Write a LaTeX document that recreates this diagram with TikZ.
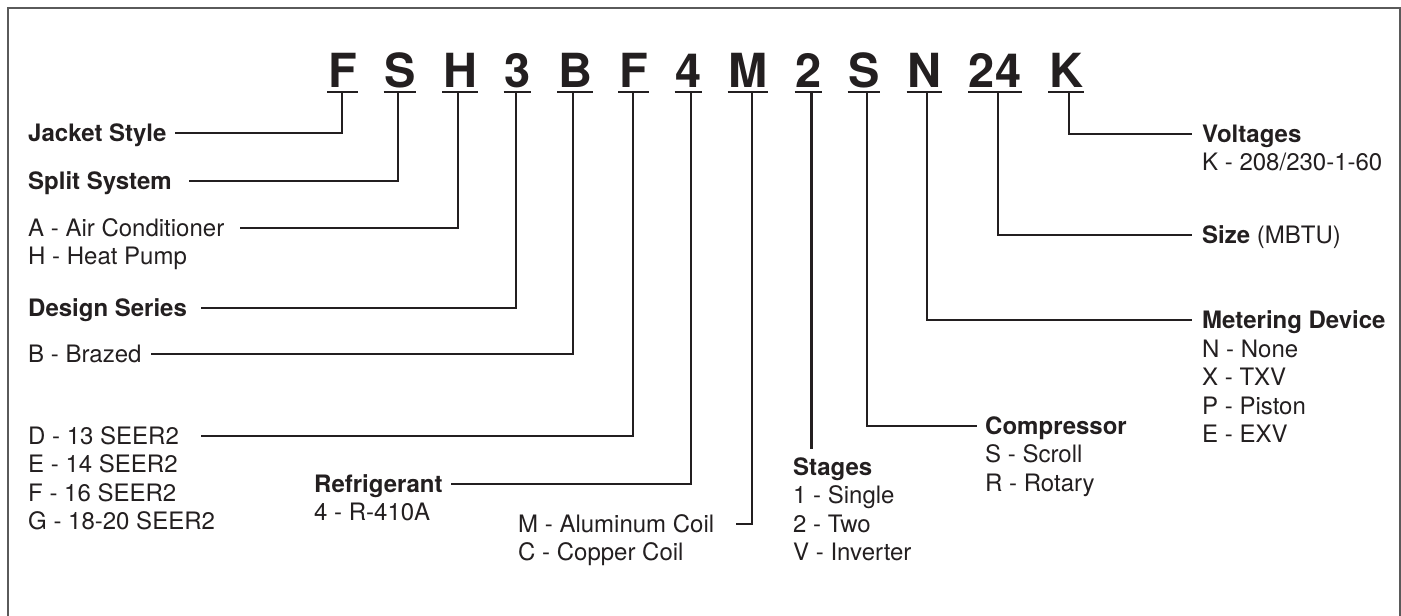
\documentclass[tikz,border=0pt]{standalone}
\usepackage{fontspec}
\setmainfont{TeX Gyre Heros}
\definecolor{ink}{HTML}{231F20}
\definecolor{framec}{HTML}{5A5A5A}
\begin{document}
\begin{tikzpicture}[x=1pt,y=-1pt,
  letter/.style={font=\bfseries\fontsize{47}{47}\selectfont, text=ink, anchor=base,
    inner xsep=0.6pt, inner ysep=5pt, text height=34pt, text depth=0pt},
  uline/.style={draw=ink, line width=2pt},
  conn/.style={draw=ink, line width=2.3pt},
  lbl/.style={font=\fontsize{24}{28.6}\selectfont, text=ink, anchor=base west,
    inner sep=0pt, text height=16pt, text depth=0pt},
  hd/.style={lbl, font=\bfseries\fontsize{24}{28.6}\selectfont}
]
\useasboundingbox (0,0) rectangle (1401,616);
% frame
\draw[framec, line width=2pt] (8,640) -- (8,8) -- (1399.5,8) -- (1399.5,640);

% code letters
\node[letter] (uF1) at (342.5,87) {F};
\node[letter] (uS1) at (400,87) {S};
\node[letter] (uH)  at (460,87) {H};
\node[letter] (u3)  at (517.5,87) {3};
\node[letter] (uB)  at (575,87) {B};
\node[letter] (uF2) at (633.5,87) {F};
\node[letter] (u4)  at (688.5,87) {4};
\node[letter] (uM)  at (748,87) {M};
\node[letter] (u2)  at (808.5,87) {2};
\node[letter] (uS2) at (864,87) {S};
\node[letter] (uN)  at (924.5,87) {N};
\node[letter] (u24) at (995,87) {24};
\node[letter] (uK)  at (1066,87) {K};
\foreach \n in {uF1,uS1,uH,u3,uB,uF2,u4,uM,u2,uS2,uN,u24,uK}
  \draw[uline] (\n.south west) -- (\n.south east);

% left labels
\node[hd]  (lJS) at (28,141) {Jacket Style};
\node[hd]  (lSS) at (28,189) {Split System};
\node[lbl] (lAC) at (28,236) {A - Air Conditioner};
\node[lbl] (lHP) at (28,264.6) {H - Heat Pump};
\node[hd]  (lDS) at (28,316) {Design Series};
\node[lbl] (lBZ) at (28,362) {B - Brazed};
\node[lbl] (lD)  at (28,444) {D - 13 SEER2};
\node[lbl] (lE)  at (28,472.6) {E - 14 SEER2};
\node[lbl] (lF)  at (28,501.2) {F - 16 SEER2};
\node[lbl] (lG)  at (28,529.8) {G - 18-20 SEER2};
\node[hd]  (lRF) at (314,492) {Refrigerant};
\node[lbl] (lR4) at (314,520.6) {4 - R-410A};
\node[lbl] (lMC) at (518,532) {M - Aluminum Coil};
\node[lbl] (lCC) at (518,560.6) {C - Copper Coil};

% middle / right labels
\node[hd]  (lST) at (793,475) {Stages};
\node[lbl] (lS1) at (793,503.6) {1 - Single};
\node[lbl] (lS2) at (793,532.2) {2 - Two};
\node[lbl] (lSV) at (793,560.8) {V - Inverter};
\node[hd]  (lCP) at (985,434) {Compressor};
\node[lbl] (lCS) at (985,462.6) {S - Scroll};
\node[lbl] (lCR) at (985,491.2) {R - Rotary};
\node[hd]  (lMD) at (1202,328) {Metering Device};
\node[lbl] (lMN) at (1202,357) {N - None};
\node[lbl] (lMX) at (1202,385.6) {X - TXV};
\node[lbl] (lMP) at (1202,414.2) {P - Piston};
\node[lbl] (lME) at (1202,442.8) {E - EXV};
\node[lbl] (lSZ) at (1202,243) {\textbf{Size} (MBTU)};
\node[hd]  (lVO) at (1202,142) {Voltages};
\node[lbl] (lVK) at (1202,170.6) {K - 208/230-1-60};

% connectors
\draw[conn] ([xshift=-0.5pt]uF1.south) |- ([xshift=8pt]lJS.east);
\draw[conn] ([xshift=-2pt]uS1.south) |- ([xshift=17pt]lSS.east);
\draw[conn] ([xshift=-2pt]uH.south) |- ([xshift=16pt]lAC.east);
\draw[conn] ([xshift=-1.5pt]u3.south) |- ([xshift=14pt]lDS.east);
\draw[conn] ([xshift=-2pt]uB.south) |- ([xshift=9pt]lBZ.east);
\draw[conn] ([xshift=-0.5pt]uF2.south) |- ([xshift=22pt]lD.east);
\draw[conn] ([xshift=2.5pt]u4.south) |- ([xshift=8pt]lRF.east);
\draw[conn] ([xshift=4pt]uM.south) |- ([xshift=22pt]lMC.east);
\draw[conn] ([xshift=3pt]u2.south) -- ([xshift=3pt,yshift=10pt]u2.south |- lST.north);
\draw[conn] ([xshift=3pt]uS2.south) |- ([xshift=-8pt]lCP.west);
\draw[conn] ([xshift=2.5pt]uN.south) |- ([xshift=-10pt]lMD.west);
\draw[conn] ([xshift=3pt]u24.south) |- ([xshift=-10pt]lSZ.west);
\draw[conn] ([xshift=3pt]uK.south) |- ([xshift=-10pt]lVO.west);
\end{tikzpicture}
\end{document}
